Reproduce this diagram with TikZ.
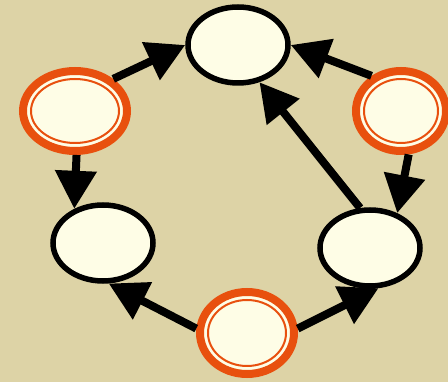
\documentclass[tikz,border=0pt]{standalone}
\usetikzlibrary{shapes.geometric,arrows.meta,calc}
\definecolor{khaki}{RGB}{221,211,166}
\definecolor{cream}{RGB}{254,253,230}
\definecolor{ringorange}{RGB}{232,80,14}
\tikzset{
  state/.style={ellipse, draw=black, line width=5.5pt, fill=cream,
    minimum width=100pt, minimum height=76pt},
  ring/.style={ellipse, draw=ringorange, line width=8pt, fill=cream,
    path picture={\draw[ringorange, line width=2pt]
      let \p1=(path picture bounding box.north east),
          \p2=(path picture bounding box.center) in
      (\p2) ellipse [x radius=\x1-\x2-8pt, y radius=\y1-\y2-8pt];}},
  link/.style={-{Triangle[length=38pt,width=40pt]}, line width=8pt},
}
\begin{document}
\begin{tikzpicture}[x=1pt,y=-1pt]

\fill[khaki] (0,0) rectangle (448,382);
\useasboundingbox (0,0) rectangle (448,382);

	\node[state] (top) at (238,45) {};
	\node[ring, minimum width=104pt, minimum height=80pt] (leftO) at (75,111) {};
	\node[ring, minimum width=90pt, minimum height=80pt] (rightO) at (401,111) {};
	\node[state] (leftLow) at (103,243) {};
	\node[state] (rightLow) at (370,248) {};
	\node[ring, minimum width=94pt, minimum height=82pt] (bottom) at (247,333) {};

	\draw[link] (leftO.40) -- (top.180);
	\draw[link] (rightO.130) -- (top.0);
	\draw[link] (leftO.-88) -- (leftLow.130);
	\draw[link] (rightO.-80) -- (rightLow.52);
	\draw[link] (rightLow.104) -- (top.-60);
	\draw[link] (bottom.175) -- (leftLow.-82);
	\draw[link] (bottom.5) -- (rightLow.-78);

\end{tikzpicture}
\end{document}
